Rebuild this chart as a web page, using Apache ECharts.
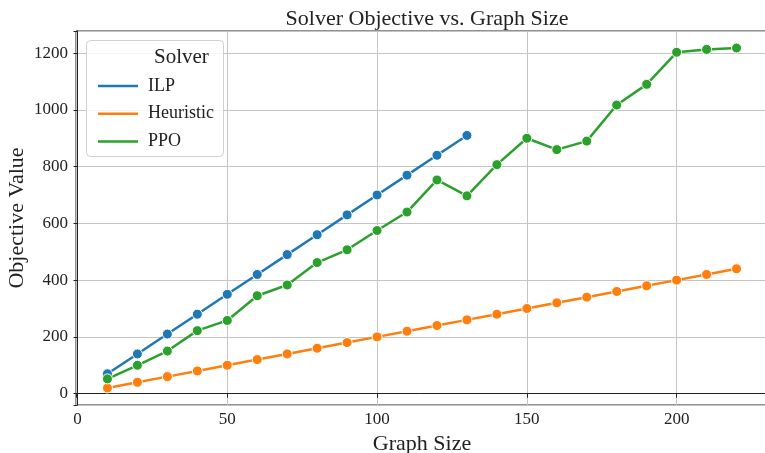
<!DOCTYPE html>
<html lang="en">
<head>
  <meta charset="UTF-8">
  <title>Solver Objective vs. Graph Size</title>
  <script src="https://cdn.jsdelivr.net/npm/echarts@6/dist/echarts.min.js"></script>
  <style>
    html, body { margin: 0; padding: 0; background: #fff; }
    #chart { width: 765px; height: 453px; }
  </style>
</head>
<body>
  <div id="chart"></div>
  <script>
    // graph sizes per solver
    const ilpSizes = [10, 20, 30, 40, 50, 60, 70, 80, 90, 100, 110, 120, 130]
    const ilpValues = [70, 140, 210, 280, 350, 420, 490, 560, 630, 700, 770, 840, 910]

    const heuristicSizes = [10, 20, 30, 40, 50, 60, 70, 80, 90, 100, 110, 120, 130, 140, 150, 160, 170, 180, 190, 200, 210, 220]
    const heuristicValues = [20, 40, 60, 80, 100, 120, 140, 160, 180, 200, 220, 240, 260, 280, 300, 320, 340, 360, 380, 400, 420, 440]

    const ppoSizes = [10, 20, 30, 40, 50, 60, 70, 80, 90, 100, 110, 120, 130, 140, 150, 160, 170, 180, 190, 200, 210, 220]
    const ppoValues = [52, 100, 150, 222, 258, 345, 383, 462, 507, 575, 640, 753, 697, 807, 900, 860, 890, 1017, 1090, 1203, 1213, 1218]

    const solverNames = ['ILP', 'Heuristic', 'PPO']
    const colors = ['#1f77b4', '#ff7f0e', '#2ca02c']

    const font = 'Liberation Serif'

    function pairs (xs, ys) {
      return xs.map((x, i) => [x, ys[i]])
    }

    function makeSeries (name, data, color) {
      return {
        name: name,
        type: 'line',
        data: data,
        symbol: 'circle',
        symbolSize: 10,
        showSymbol: true,
        color: color,
        lineStyle: { width: 2.5, color: color },
        itemStyle: { color: color, borderColor: '#fff', borderWidth: 1 },
        emphasis: { disabled: true },
        animation: false
      }
    }

    // only label the round ticks, the axis ends sit at the padded extent
    function tickLabel (step) {
      return v => (Math.abs(v % step) < 1e-6 ? String(v) : '')
    }

    const chart = echarts.init(document.getElementById('chart'))
    chart.setOption({
      backgroundColor: '#fff',
      animation: false,
      title: {
        text: 'Solver Objective vs. Graph Size',
        left: 422,
        top: 3,
        textAlign: 'center',
        textStyle: { fontFamily: font, fontSize: 22, fontWeight: 'normal', color: '#222' }
      },
      grid: {
        left: 76,
        top: 31,
        width: 692,
        height: 374,
        outerBoundsMode: 'none',
        containLabel: false,
        show: true,
        borderColor: '#222',
        borderWidth: 1,
        backgroundColor: 'transparent'
      },
      xAxis: {
        type: 'value',
        min: -0.5,
        max: 230.5,
        splitNumber: 5,
        name: 'Graph Size',
        nameLocation: 'middle',
        nameGap: 27,
        nameTextStyle: { fontFamily: font, fontSize: 22, color: '#222' },
        axisLine: { show: true, lineStyle: { color: '#222', width: 1 } },
        axisTick: { show: true, length: 4, lineStyle: { color: '#222' } },
        axisLabel: { fontFamily: font, fontSize: 17, color: '#222', margin: 6, formatter: tickLabel(50) },
        splitLine: { show: true, lineStyle: { color: '#c4c4c4', width: 1 } }
      },
      yAxis: {
        type: 'value',
        min: -40,
        max: 1278,
        splitNumber: 6,
        name: 'Objective Value',
        nameLocation: 'middle',
        nameGap: 48,
        nameMoveOverlap: false,
        nameTextStyle: { fontFamily: font, fontSize: 22, color: '#222' },
        axisLine: { show: true, lineStyle: { color: '#222', width: 1 } },
        axisTick: { show: true, length: 4, lineStyle: { color: '#222' } },
        axisLabel: { fontFamily: font, fontSize: 17, color: '#222', margin: 8, formatter: tickLabel(200) },
        splitLine: { show: true, lineStyle: { color: '#c4c4c4', width: 1 } }
      },
      legend: {
        data: solverNames,
        orient: 'vertical',
        left: 93,
        top: 72,
        icon: 'rect',
        itemWidth: 40,
        itemHeight: 2.5,
        itemGap: 9.7,
        selectedMode: false,
        itemStyle: { borderWidth: 0 },
        textStyle: { fontFamily: font, fontSize: 18, color: '#222', lineHeight: 16, padding: [0, 0, 0, 5] },
        z: 10
      },
      graphic: [
        {
          type: 'rect',
          left: 86,
          top: 40,
          shape: { width: 137, height: 116, r: 4 },
          style: { fill: 'rgba(255,255,255,0.85)', stroke: '#d0d0d0', lineWidth: 1 },
          z: 5
        },
        {
          type: 'text',
          left: 154,
          top: 47,
          style: {
            text: 'Solver',
            fontFamily: font,
            fontSize: 21,
            fill: '#222',
            textAlign: 'center'
          },
          z: 6
        }
      ],
      series: [
        makeSeries(solverNames[0], pairs(ilpSizes, ilpValues), colors[0]),
        makeSeries(solverNames[1], pairs(heuristicSizes, heuristicValues), colors[1]),
        makeSeries(solverNames[2], pairs(ppoSizes, ppoValues), colors[2])
      ]
    })
  </script>
</body>
</html>
